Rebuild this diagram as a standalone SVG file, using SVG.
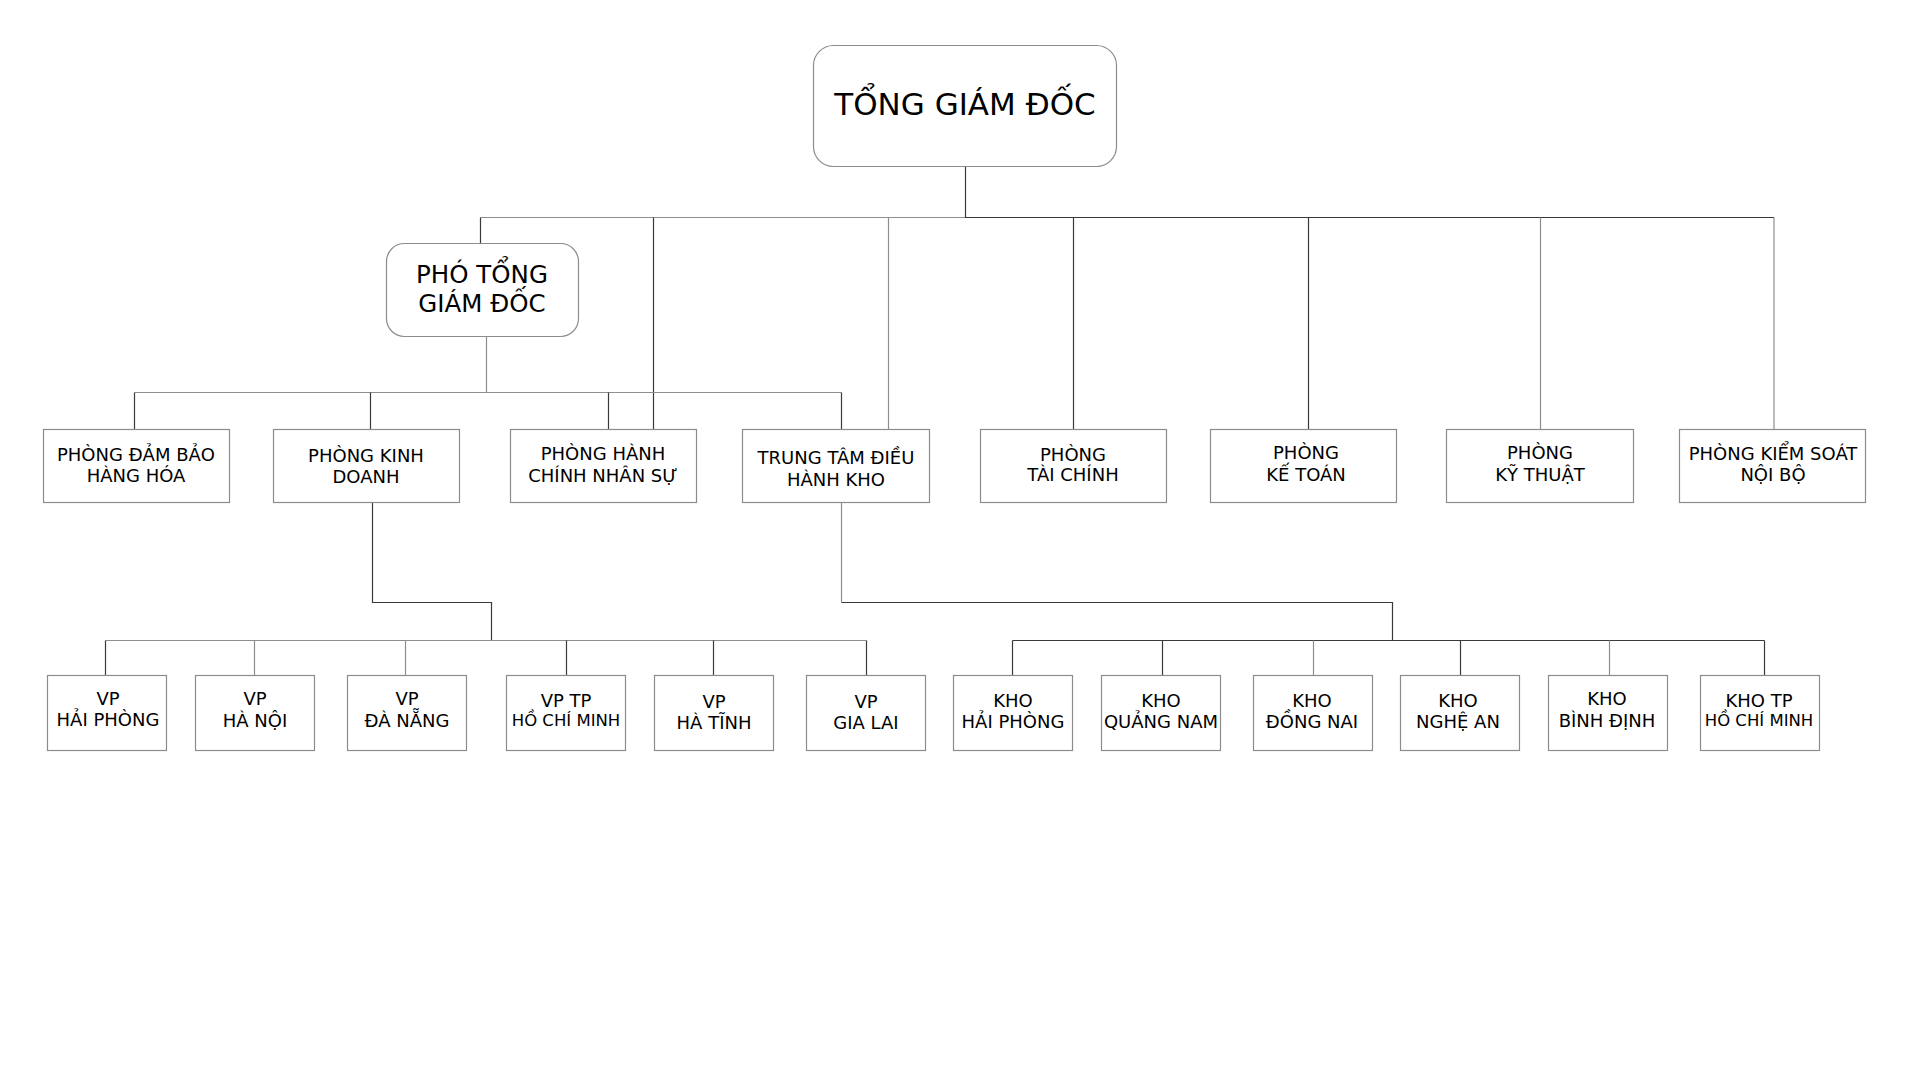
<svg xmlns="http://www.w3.org/2000/svg" width="1920" height="1080" viewBox="0 0 1920 1080">
<style>
text{font-family:"DejaVu Sans","Verdana",sans-serif;fill:#000;text-anchor:middle}
.box{fill:#fff;stroke:#8c8c8c;stroke-width:1.2}
.sh{fill:none;stroke:#c8c8c8;stroke-width:1.5}
.c{fill:none;stroke:#3a3a3a;stroke-width:1.2}
.g{fill:none;stroke:#8e8e8e;stroke-width:1.2}
.t18{font-size:18px}
.t17{font-size:16.5px}
</style>
<rect width="1920" height="1080" fill="#fff"/>
<g id="connectors">
<path class="g" d="M480.5 217.5H965.5"/>
<path class="c" d="M965.5 167V217.5H1774"/>
<path class="c" d="M480.5 217.5V243"/>
<path class="c" d="M653.5 217.5V429"/>
<path class="g" d="M888.5 217.5V429"/>
<path class="c" d="M1073.5 217.5V429"/>
<path class="c" d="M1308.5 217.5V429"/>
<path class="g" d="M1540.5 217.5V429"/>
<path class="g" d="M1774 217.5V429"/>
<path class="g" d="M486.5 337V392.5"/>
<path class="g" d="M134.5 392.5H841.5"/>
<path class="c" d="M134.5 392.5V429"/>
<path class="c" d="M370.5 392.5V429"/>
<path class="c" d="M608.5 392.5V429"/>
<path class="c" d="M841.5 392.5V429"/>
<path class="c" d="M372.5 503V602.5H491.5V640.5"/>
<path class="g" d="M105.5 640.5H866.5"/>
<path class="c" d="M105.5 640.5V675"/>
<path class="g" d="M254.5 640.5V675"/>
<path class="g" d="M405.5 640.5V675"/>
<path class="c" d="M566.5 640.5V675"/>
<path class="c" d="M713.5 640.5V675"/>
<path class="c" d="M866.5 640.5V675"/>
<path class="g" d="M841.5 503V602.5"/>
<path class="c" d="M841.5 602.5H1392.5V640.5"/>
<path class="c" d="M1012.5 640.5H1764.5"/>
<path class="c" d="M1012.5 640.5V675"/>
<path class="c" d="M1162.5 640.5V675"/>
<path class="g" d="M1313.5 640.5V675"/>
<path class="c" d="M1460.5 640.5V675"/>
<path class="g" d="M1609.5 640.5V675"/>
<path class="c" d="M1764.5 640.5V675"/>
</g>
<g id="tong-giam-doc">
<rect class="box" x="813.5" y="45.5" width="303" height="121" rx="20"/>
<text x="965" y="115" font-size="31">TỔNG GIÁM ĐỐC</text>
</g>
<g id="pho-tong-giam-doc">
<rect class="box" x="386.5" y="243.5" width="192" height="93" rx="18"/>
<text x="482" y="283" font-size="24.5">PHÓ TỔNG</text>
<text x="482" y="312" font-size="24.5">GIÁM ĐỐC</text>
</g>
<g id="p-dam-bao">
<rect class="box" x="43.5" y="429.5" width="186" height="73"/>
<text class="t18" x="136" y="461">PHÒNG ĐẢM BẢO</text>
<text class="t18" x="136" y="482">HÀNG HÓA</text>
</g>
<g id="p-kinh-doanh">
<rect class="box" x="273.5" y="429.5" width="186" height="73"/>
<text class="t18" x="366" y="462">PHÒNG KINH</text>
<text class="t18" x="366" y="483">DOANH</text>
</g>
<g id="p-hanh-chinh">
<rect class="box" x="510.5" y="429.5" width="186" height="73"/>
<text class="t18" x="603" y="460">PHÒNG HÀNH</text>
<text class="t18" x="603" y="482">CHÍNH NHÂN SỰ</text>
</g>
<g id="trung-tam">
<rect class="box" x="742.5" y="429.5" width="187" height="73"/>
<text class="t18" x="836" y="464">TRUNG TÂM ĐIỀU</text>
<text class="t18" x="836" y="486">HÀNH KHO</text>
</g>
<g id="p-tai-chinh">
<rect class="box" x="980.5" y="429.5" width="186" height="73"/>
<text class="t18" x="1073" y="461">PHÒNG</text>
<text class="t18" x="1073" y="481">TÀI CHÍNH</text>
</g>
<g id="p-ke-toan">
<rect class="box" x="1210.5" y="429.5" width="186" height="73"/>
<text class="t18" x="1306" y="459">PHÒNG</text>
<text class="t18" x="1306" y="481">KẾ TOÁN</text>
</g>
<g id="p-ky-thuat">
<rect class="box" x="1446.5" y="429.5" width="187" height="73"/>
<text class="t18" x="1540" y="459">PHÒNG</text>
<text class="t18" x="1540" y="481">KỸ THUẬT</text>
</g>
<g id="p-kiem-soat">
<rect class="box" x="1679.5" y="429.5" width="186" height="73"/>
<text class="t18" x="1773" y="460">PHÒNG KIỂM SOÁT</text>
<text class="t18" x="1773" y="481">NỘI BỘ</text>
</g>
<g id="vp-hai-phong">
<rect class="box" x="47.5" y="675.5" width="119" height="75"/>
<text class="t18" x="108" y="705">VP</text>
<text class="t18" x="108" y="726">HẢI PHÒNG</text>
</g>
<g id="vp-ha-noi">
<rect class="box" x="195.5" y="675.5" width="119" height="75"/>
<text class="t18" x="255" y="705">VP</text>
<text class="t18" x="255" y="727">HÀ NỘI</text>
</g>
<g id="vp-da-nang">
<rect class="box" x="347.5" y="675.5" width="119" height="75"/>
<text class="t18" x="407" y="705">VP</text>
<text class="t18" x="407" y="727">ĐÀ NẴNG</text>
</g>
<g id="vp-hcm">
<rect class="box" x="506.5" y="675.5" width="119" height="75"/>
<text class="t18" x="566" y="707">VP TP</text>
<text class="t17" x="566" y="726">HỒ CHÍ MINH</text>
</g>
<g id="vp-ha-tinh">
<rect class="box" x="654.5" y="675.5" width="119" height="75"/>
<text class="t18" x="714" y="708">VP</text>
<text class="t18" x="714" y="729">HÀ TĨNH</text>
</g>
<g id="vp-gia-lai">
<rect class="box" x="806.5" y="675.5" width="119" height="75"/>
<text class="t18" x="866" y="708">VP</text>
<text class="t18" x="866" y="729">GIA LAI</text>
</g>
<g id="kho-hai-phong">
<rect class="box" x="953.5" y="675.5" width="119" height="75"/>
<text class="t18" x="1013" y="707">KHO</text>
<text class="t18" x="1013" y="728">HẢI PHÒNG</text>
</g>
<g id="kho-quang-nam">
<rect class="box" x="1101.5" y="675.5" width="119" height="75"/>
<text class="t18" x="1161" y="707">KHO</text>
<text class="t18" x="1161" y="728">QUẢNG NAM</text>
</g>
<g id="kho-dong-nai">
<rect class="box" x="1253.5" y="675.5" width="119" height="75"/>
<text class="t18" x="1312" y="707">KHO</text>
<text class="t18" x="1312" y="728">ĐỒNG NAI</text>
</g>
<g id="kho-nghe-an">
<rect class="box" x="1400.5" y="675.5" width="119" height="75"/>
<text class="t18" x="1458" y="707">KHO</text>
<text class="t18" x="1458" y="728">NGHỆ AN</text>
</g>
<g id="kho-binh-dinh">
<rect class="box" x="1548.5" y="675.5" width="119" height="75"/>
<text class="t18" x="1607" y="705">KHO</text>
<text class="t18" x="1607" y="727">BÌNH ĐỊNH</text>
</g>
<g id="kho-hcm">
<rect class="box" x="1700.5" y="675.5" width="119" height="75"/>
<text class="t18" x="1759" y="707">KHO TP</text>
<text class="t17" x="1759" y="726">HỒ CHÍ MINH</text>
</g>
</svg>
